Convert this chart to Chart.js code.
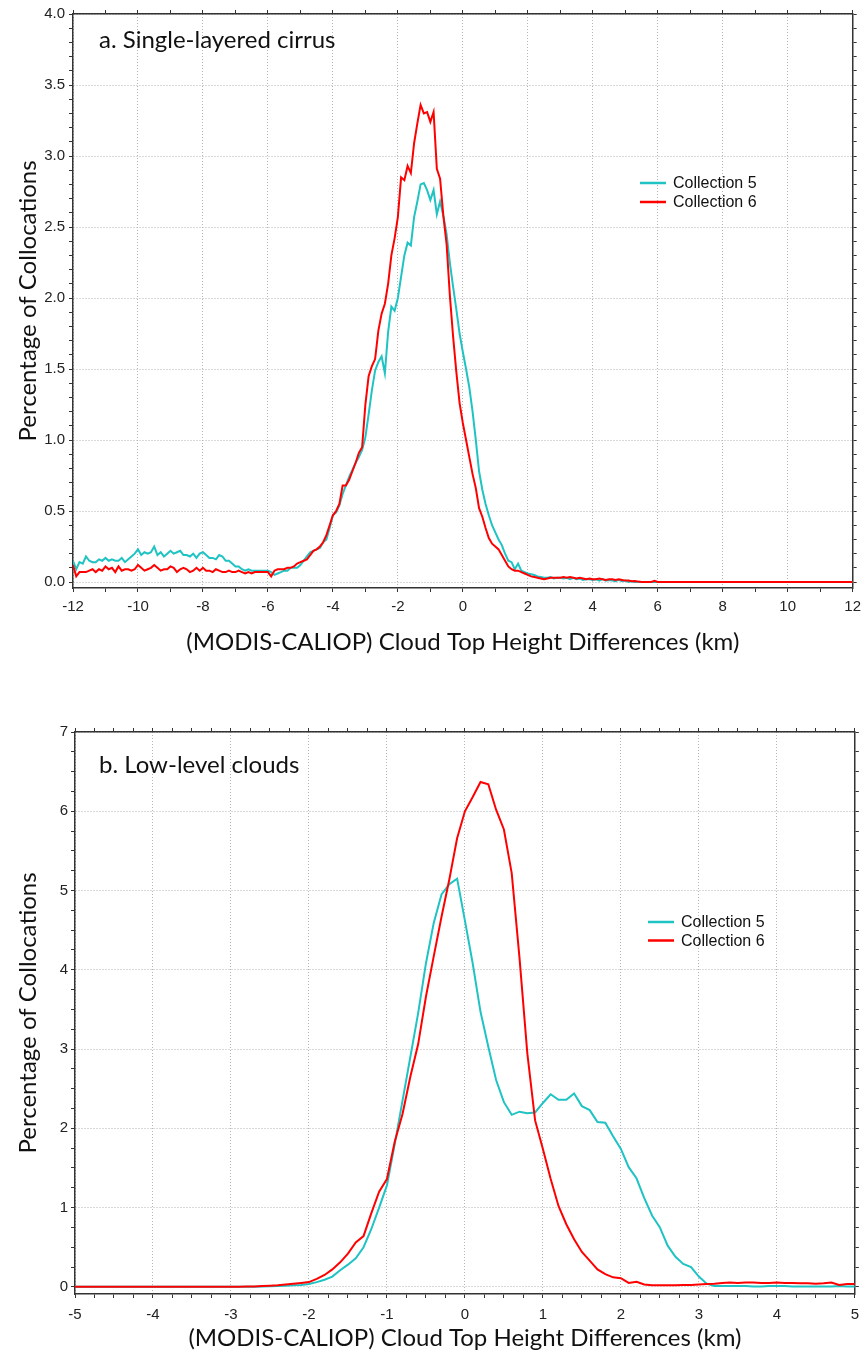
<!DOCTYPE html>
<html>
<head>
<meta charset="utf-8">
<title>MODIS-CALIOP cloud top height differences</title>
<script src="https://cdn.jsdelivr.net/npm/chart.js@4.4.1/dist/chart.umd.min.js"></script>
<style>
  body { margin: 0; background: #fff; }
  #panelA { position: absolute; left: 0; top: 0; }
  #panelB { position: absolute; left: 0; top: 690px; }
</style>
</head>
<body>
<canvas id="panelA" width="867" height="660"></canvas>
<canvas id="panelB" width="867" height="664"></canvas>
<script>
// Panel a: single-layered cirrus, 0.1 km bins from -12 to 6 km, flat to 12 km
const kmA = [
  -12.0,-11.9,-11.8,-11.7,-11.6,-11.5,-11.4,-11.3,-11.2,-11.1,
  -11.0,-10.9,-10.8,-10.7,-10.6,-10.5,-10.4,-10.3,-10.2,-10.1,
  -10.0,-9.9,-9.8,-9.7,-9.6,-9.5,-9.4,-9.3,-9.2,-9.1,
  -9.0,-8.9,-8.8,-8.7,-8.6,-8.5,-8.4,-8.3,-8.2,-8.1,
  -8.0,-7.9,-7.8,-7.7,-7.6,-7.5,-7.4,-7.3,-7.2,-7.1,
  -7.0,-6.9,-6.8,-6.7,-6.6,-6.5,-6.4,-6.3,-6.2,-6.1,
  -6.0,-5.9,-5.8,-5.7,-5.6,-5.5,-5.4,-5.3,-5.2,-5.1,
  -5.0,-4.9,-4.8,-4.7,-4.6,-4.5,-4.4,-4.3,-4.2,-4.1,
  -4.0,-3.9,-3.8,-3.7,-3.6,-3.5,-3.4,-3.3,-3.2,-3.1,
  -3.0,-2.9,-2.8,-2.7,-2.6,-2.5,-2.4,-2.3,-2.2,-2.1,
  -2.0,-1.9,-1.8,-1.7,-1.6,-1.5,-1.4,-1.3,-1.2,-1.1,
  -1.0,-0.9,-0.8,-0.7,-0.6,-0.5,-0.4,-0.3,-0.2,-0.1,
  0.0,0.1,0.2,0.3,0.4,0.5,0.6,0.7,0.8,0.9,
  1.0,1.1,1.2,1.3,1.4,1.5,1.6,1.7,1.8,1.9,
  2.0,2.1,2.2,2.3,2.4,2.5,2.6,2.7,2.8,2.9,
  3.0,3.1,3.2,3.3,3.4,3.5,3.6,3.7,3.8,3.9,
  4.0,4.1,4.2,4.3,4.4,4.5,4.6,4.7,4.8,4.9,
  5.0,5.1,5.2,5.3,5.4,5.5,5.6,5.7,5.8,5.9,
  6.0,12.0
];
const c5Cirrus = [
  0.15,0.09,0.14,0.13,0.18,0.15,0.14,0.14,0.16,0.15,
  0.17,0.15,0.16,0.15,0.15,0.17,0.14,0.16,0.18,0.20,
  0.23,0.19,0.21,0.20,0.21,0.25,0.19,0.21,0.18,0.20,
  0.22,0.20,0.21,0.22,0.19,0.19,0.18,0.20,0.17,0.20,
  0.21,0.19,0.17,0.17,0.16,0.19,0.18,0.15,0.15,0.13,
  0.11,0.11,0.09,0.08,0.09,0.08,0.08,0.08,0.08,0.08,
  0.08,0.07,0.05,0.06,0.07,0.08,0.08,0.10,0.10,0.10,
  0.12,0.15,0.18,0.21,0.22,0.23,0.24,0.28,0.30,0.38,
  0.47,0.49,0.54,0.62,0.68,0.74,0.79,0.84,0.88,0.93,
  1.02,1.18,1.35,1.49,1.55,1.59,1.47,1.76,1.94,1.91,
  2.00,2.15,2.30,2.39,2.37,2.57,2.68,2.80,2.81,2.76,
  2.69,2.76,2.59,2.68,2.58,2.45,2.25,2.08,1.92,1.75,
  1.62,1.50,1.37,1.20,1.00,0.78,0.65,0.55,0.47,0.40,
  0.35,0.30,0.26,0.20,0.15,0.14,0.09,0.13,0.08,0.07,
  0.06,0.055,0.05,0.04,0.035,0.03,0.03,0.035,0.025,0.03,
  0.03,0.025,0.03,0.02,0.03,0.02,0.025,0.015,0.02,0.02,
  0.015,0.02,0.01,0.02,0.01,0.015,0.01,0.005,0.015,0.005,
  0.01,0,0.005,0,0,0,0,0,0,0,
  0,0
];
const c6Cirrus = [
  0.12,0.04,0.07,0.07,0.07,0.08,0.09,0.07,0.09,0.08,
  0.11,0.09,0.10,0.07,0.11,0.08,0.09,0.09,0.08,0.09,
  0.12,0.10,0.08,0.09,0.10,0.12,0.10,0.08,0.09,0.09,
  0.11,0.10,0.07,0.09,0.10,0.09,0.07,0.08,0.10,0.08,
  0.10,0.08,0.08,0.07,0.09,0.08,0.07,0.07,0.08,0.07,
  0.07,0.08,0.07,0.06,0.07,0.06,0.07,0.07,0.07,0.07,
  0.07,0.04,0.08,0.09,0.09,0.09,0.10,0.10,0.11,0.13,
  0.14,0.15,0.16,0.19,0.22,0.23,0.25,0.28,0.33,0.40,
  0.47,0.50,0.55,0.68,0.68,0.72,0.78,0.84,0.91,0.95,
  1.25,1.45,1.52,1.57,1.77,1.89,1.96,2.10,2.30,2.42,
  2.57,2.85,2.83,2.93,2.88,3.09,3.23,3.36,3.30,3.31,
  3.24,3.31,2.91,2.84,2.58,2.38,2.02,1.73,1.48,1.26,
  1.12,1.00,0.88,0.76,0.66,0.52,0.46,0.38,0.31,0.27,
  0.25,0.23,0.19,0.15,0.11,0.09,0.08,0.08,0.07,0.06,
  0.05,0.04,0.035,0.03,0.025,0.02,0.025,0.03,0.03,0.03,
  0.03,0.035,0.03,0.035,0.03,0.025,0.03,0.025,0.02,0.025,
  0.02,0.02,0.025,0.02,0.015,0.02,0.02,0.015,0.02,0.015,
  0.01,0.01,0.005,0.008,0.003,0,0,0,0,0.008,
  0,0
];

// Panel b: low-level clouds, flat from -5 km, 0.1 km bins from -3 to 5 km
const kmB = [
  -5.0,
  -3.0,-2.9,-2.8,-2.7,-2.6,-2.5,-2.4,-2.3,-2.2,-2.1,
  -2.0,-1.9,-1.8,-1.7,-1.6,-1.5,-1.4,-1.3,-1.2,-1.1,
  -1.0,-0.9,-0.8,-0.7,-0.6,-0.5,-0.4,-0.3,-0.2,-0.1,
  0.0,0.1,0.2,0.3,0.4,0.5,0.6,0.7,0.8,0.9,
  1.0,1.1,1.2,1.3,1.4,1.5,1.6,1.7,1.8,1.9,
  2.0,2.1,2.2,2.3,2.4,2.5,2.6,2.7,2.8,2.9,
  3.0,3.1,3.2,3.3,3.4,3.5,3.6,3.7,3.8,3.9,
  4.0,4.1,4.2,4.3,4.4,4.5,4.6,4.7,4.8,4.9,
  5.0
];
const c5Low = [
  0,
  0,0,0,0.003,0.005,0.008,0.01,0.015,0.02,0.025,
  0.035,0.06,0.09,0.13,0.21,0.28,0.36,0.50,0.73,1.00,
  1.28,1.80,2.35,2.90,3.45,4.08,4.59,4.95,5.08,5.15,
  4.62,4.08,3.47,3.03,2.61,2.33,2.17,2.21,2.19,2.20,
  2.32,2.43,2.36,2.36,2.44,2.28,2.23,2.08,2.07,1.90,
  1.74,1.51,1.37,1.12,0.90,0.75,0.52,0.38,0.29,0.25,
  0.13,0.04,0.01,0.01,0.01,0.01,0.01,0.005,0.005,0.01,
  0.01,0.01,0.005,0.005,0.005,0.005,0.005,0.005,0.01,0.005,
  0.005
];
const c6Low = [
  0,
  0,0,0.005,0.005,0.01,0.015,0.02,0.03,0.04,0.05,
  0.06,0.10,0.15,0.22,0.31,0.42,0.56,0.64,0.93,1.20,
  1.36,1.83,2.18,2.65,3.06,3.66,4.17,4.67,5.14,5.66,
  6.00,6.18,6.37,6.34,6.02,5.77,5.22,4.15,2.95,2.10,
  1.74,1.36,1.02,0.79,0.60,0.44,0.33,0.22,0.16,0.12,
  0.11,0.05,0.065,0.03,0.02,0.02,0.02,0.02,0.025,0.025,
  0.03,0.035,0.04,0.05,0.055,0.05,0.055,0.055,0.05,0.05,
  0.055,0.05,0.05,0.045,0.045,0.04,0.045,0.055,0.025,0.035,
  0.035
];

const gridGray = "#b5b5b5";
const frame = "#333";
const tickFont = { family: "Liberation Sans", size: 15 };
const titleFont = { family: "Lato", size: 24 };

function onStep(v, step) {
    const r = v / step;
    return Math.abs(r - Math.round(r)) < 1e-6;
}

// panel letter and the little legend drawn inside the plot
const panelExtras = {
    id: "panelExtras",
    afterDraw(chart, args, opts) {
        const ctx = chart.ctx;
        ctx.save();
        ctx.fillStyle = "#111";
        ctx.font = "24px Lato";
        ctx.textBaseline = "alphabetic";
        ctx.fillText(opts.label, opts.labelX, opts.labelY);
        ctx.font = '16px "Liberation Sans"';
        ctx.textBaseline = "middle";
        chart.data.datasets.forEach(function (ds, i) {
            const y = opts.legendY + i * opts.legendGap;
            ctx.strokeStyle = ds.borderColor;
            ctx.lineWidth = 2.5;
            ctx.beginPath();
            ctx.moveTo(opts.legendX, y);
            ctx.lineTo(opts.legendX + 26, y);
            ctx.stroke();
            ctx.fillStyle = "#111";
            ctx.fillText(ds.label, opts.legendX + 33, y + 1);
        });
        ctx.restore();
    }
};

function makePanel(canvasId, p) {
    const ctx = document.getElementById(canvasId).getContext("2d");
    const toPoints = (xs, ys) => xs.map((x, i) => ({ x: x, y: ys[i] }));
    const frameAxis = (pos, min, max, step, fit) => ({
        type: "linear",
        position: pos,
        min: min,
        max: max,
        afterFit: fit,
        ticks: { display: false, stepSize: step, autoSkip: false, includeBounds: false },
        grid: { drawOnChartArea: false, tickColor: frame, tickLength: 4 },
        border: { color: frame, width: 1.5 }
    });

    return new Chart(ctx, {
        type: "line",
        data: {
            datasets: [{
                label: "Collection 5",
                data: toPoints(p.km, p.c5),
                borderColor: "#1fc3c3",
                borderWidth: 2,
                pointRadius: 0,
                order: 1
            }, {
                label: "Collection 6",
                data: toPoints(p.km, p.c6),
                borderColor: "#ff0000",
                borderWidth: 2,
                pointRadius: 0,
                order: 0
            }]
        },
        options: {
            responsive: false,
            animation: false,
            layout: { padding: p.pad },
            plugins: {
                legend: { display: false },
                tooltip: { enabled: false },
                panelExtras: p.extras
            },
            scales: {
                x: {
                    type: "linear",
                    position: "bottom",
                    min: p.xMin,
                    max: p.xMax,
                    afterFit: s => { s.height = p.xAxisH; },
                    ticks: {
                        stepSize: p.xMinor,
                        autoSkip: false,
                        maxRotation: 0,
                        padding: p.xTickPad,
                        font: tickFont,
                        color: "#222",
                        callback: v => onStep(v, p.xMajor) ? String(Math.round(v)) : ""
                    },
                    grid: {
                        color: c => onStep(c.tick.value, p.xMajor) ? gridGray : "rgba(0,0,0,0)",
                        tickColor: frame,
                        tickLength: 4
                    },
                    border: { color: frame, width: 1.5, dash: [1, 2] },
                    title: {
                        display: true,
                        text: "(MODIS-CALIOP) Cloud Top Height Differences (km)",
                        font: titleFont,
                        color: "#111",
                        padding: { top: 0, bottom: p.xTitlePad }
                    }
                },
                y: {
                    type: "linear",
                    position: "left",
                    min: p.yMin,
                    max: p.yMax,
                    afterFit: s => { s.width = p.yAxisW; },
                    ticks: {
                        stepSize: p.yMinor,
                        autoSkip: false,
                        includeBounds: false,
                        padding: p.yTickPad,
                        font: tickFont,
                        color: "#222",
                        callback: v => onStep(v, p.yMajor) ? (Math.round(v / p.yMajor) * p.yMajor).toFixed(p.yDigits) : ""
                    },
                    grid: {
                        color: c => onStep(c.tick.value, p.yMajor) ? gridGray : "rgba(0,0,0,0)",
                        tickColor: frame,
                        tickLength: 4
                    },
                    border: { color: frame, width: 1.5, dash: [1, 2] },
                    title: {
                        display: true,
                        text: "Percentage of Collocations",
                        font: titleFont,
                        color: "#111",
                        padding: { top: 14, bottom: 0 }
                    }
                },
                x2: frameAxis("top", p.xMin, p.xMax, p.xMinor, s => { s.height = 0; }),
                y2: frameAxis("right", p.yMin, p.yMax, p.yMinor, s => { s.width = 0; })
            }
        },
        plugins: [panelExtras]
    });
}

makePanel("panelA", {
    km: kmA, c5: c5Cirrus, c6: c6Cirrus,
    xMin: -12, xMax: 12, xMinor: 1, xMajor: 2,
    yMin: -0.042, yMax: 4, yMinor: 0.1, yMajor: 0.5, yDigits: 1,
    pad: { top: 14, right: 9, left: 0, bottom: 0 },
    xAxisH: 72, yAxisW: 73, xTickPad: 6, yTickPad: 4, xTitlePad: 3,
    extras: { label: "a. Single-layered cirrus", labelX: 99, labelY: 48,
              legendX: 640, legendY: 183, legendGap: 19 }
});

makePanel("panelB", {
    km: kmB, c5: c5Low, c6: c6Low,
    xMin: -5, xMax: 5, xMinor: 0.25, xMajor: 1,
    yMin: -0.09, yMax: 7, yMinor: 0.25, yMajor: 1, yDigits: 0,
    pad: { top: 42, right: 7, left: 0, bottom: 0 },
    xAxisH: 60, yAxisW: 75, xTickPad: 8, yTickPad: 3, xTitlePad: 1,
    extras: { label: "b. Low-level clouds", labelX: 99, labelY: 83,
              legendX: 648, legendY: 232, legendGap: 18.5 }
});
</script>
</body>
</html>
